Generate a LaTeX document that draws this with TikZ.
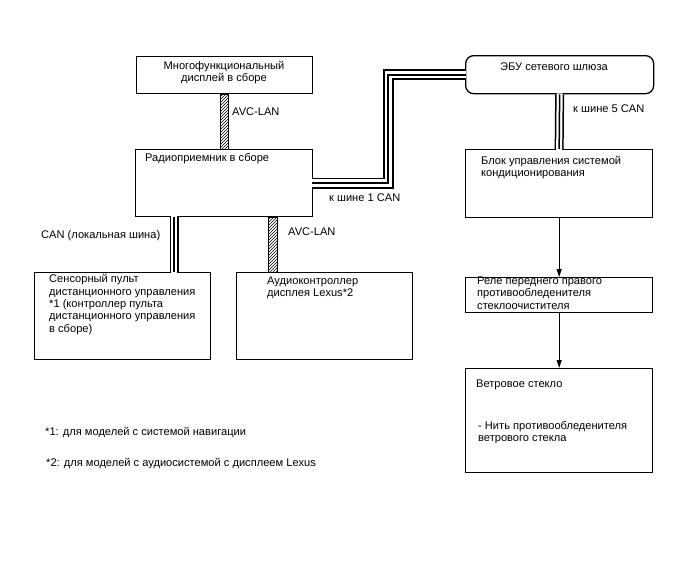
\documentclass[tikz,border=0pt]{standalone}
\usepackage{fontspec}
\setmainfont{Liberation Sans}
\usetikzlibrary{patterns,arrows.meta,calc}
\begin{document}
\begin{tikzpicture}[x=1pt,y=-1pt,
  box/.style={draw,line width=1.3pt,rectangle,anchor=north west,inner sep=0pt},
  txt/.style={anchor=base west,inner sep=0pt,align=left,font=\fontsize{11.1}{12.3}\selectfont},
  ctxt/.style={anchor=base,inner sep=0pt,align=center,font=\fontsize{11.1}{12.3}\selectfont},
  hatch/.style={draw,line width=0.8pt,pattern=north east lines},
  busout/.style={draw,line width=#1,line join=miter},
  busin/.style={draw=white,line width=#1,line join=miter},
  flow/.style={draw,line width=0.8pt,-{Triangle[length=8pt,width=5pt]}}]
\fill[white] (0,0) rectangle (688,560);
\useasboundingbox (0,0) rectangle (688,560);

% boxes
\node[box,minimum width=176pt,minimum height=37pt] (mfd) at (136,56) {};
\node[box,minimum width=177pt,minimum height=67pt] (radio) at (135,149) {};
\node[box,rounded corners=8pt,minimum width=188pt,minimum height=38pt] (gw) at (465,55) {};
\node[box,minimum width=187pt,minimum height=68pt] (ac) at (465,149) {};
\node[box,minimum width=187pt,minimum height=35pt] (relay) at (465,277) {};
\node[box,minimum width=187pt,minimum height=104pt] (ws) at (465,368) {};
\node[box,minimum width=176pt,minimum height=87pt] (sensor) at (34,272) {};
\node[box,minimum width=176pt,minimum height=87pt] (audio) at (236,272) {};

\coordinate (lc) at (174,0);
\coordinate (av2) at (272.5,0);

% AVC-LAN bars
\draw[hatch] ([xshift=-4pt]mfd.south) rectangle ([xshift=4pt]radio.north);
\draw[hatch] ($(radio.south -| av2)+(-4.5,0)$) rectangle ($(audio.north -| av2)+(4.5,0)$);

% CAN 1 bus
\path[busout=11pt] (radio.east) -- ++(75,0) |- (gw.west);
\path[busin=7.4pt] ([xshift=-1pt]radio.east) -- ++(76,0) |- ([xshift=1pt]gw.west);
\path[busout=1.8pt] ([xshift=-1pt]radio.east) -- ++(76,0) |- ([xshift=1pt]gw.west);

% CAN 5 bus
\path[busout=9pt] (gw.south) -- (ac.north);
\path[busin=6pt] ([yshift=1pt]gw.south) -- ([yshift=-1pt]ac.north);
\path[busout=1.5pt] (gw.south) -- (ac.north);

% local CAN bus
\path[busout=9pt] (radio.south -| lc) -- (sensor.north -| lc);
\path[busin=6pt] ([yshift=1pt]radio.south -| lc) -- ([yshift=-1pt]sensor.north -| lc);
\path[busout=1.5pt] (radio.south -| lc) -- (sensor.north -| lc);

% arrows
\draw[flow] (ac.south) -- (relay.north);
\draw[flow] (relay.south) -- (ws.north);

% texts (base of a multi-line node = baseline of its last line)
\node[ctxt] (tmfd) at (224,81.3) {Многофункциональный\\дисплей в сборе};
\node[txt] (tavc1) at (232,115) {AVC-LAN};
\node[txt] (tradio) at (145,161) {Радиоприемник в сборе};
\node[txt] (tcan1) at (329,201) {к шине 1 CAN};
\node[ctxt] (tgw) at (554,70) {ЭБУ сетевого шлюза};
\node[txt] (tcan5) at (573,112) {к шине 5 CAN};
\node[txt] (tac) at (481,176.3) {Блок управления системой\\кондиционирования};
\node[txt] (trelay) at (477,309) {Реле переднего правого\\противообледенителя\\стеклоочистителя};
\node[txt] (tws) at (476,387) {Ветровое стекло};
\node[txt] (tws2) at (478,441.3) {- Нить противообледенителя\\ветрового стекла};
\node[txt] (tcanl) at (41,238) {CAN (локальная шина)};
\node[txt] (tavc2) at (288,235) {AVC-LAN};
\node[txt] (tsensor) at (49,332) {Сенсорный пульт\\дистанционного управления\\*1 (контроллер пульта\\дистанционного управления\\в сборе)};
\node[txt] (taudio) at (267,296.3) {Аудиоконтроллер\\дисплея Lexus*2};
\node[txt] (tfn1) at (45,435) {*1: для моделей с системой навигации};
\node[txt] (tfn2) at (46,466) {*2: для моделей с аудиосистемой с дисплеем Lexus};
\end{tikzpicture}
\end{document}
